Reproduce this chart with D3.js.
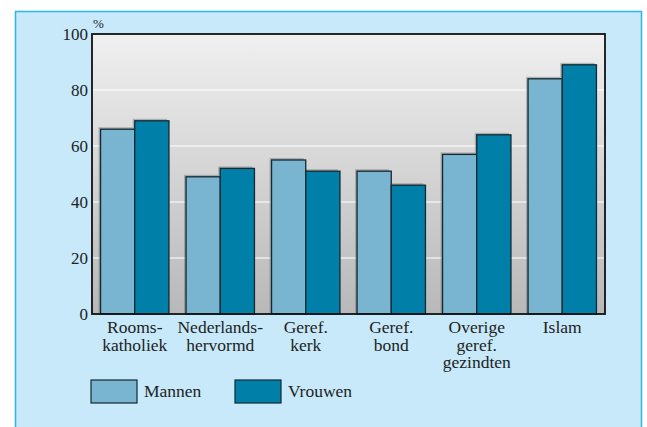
<!DOCTYPE html>
<html>
<head>
<meta charset="utf-8">
<script src="https://cdn.jsdelivr.net/npm/d3@7"></script>
<style>
  body { margin: 0; background: #fff; }
</style>
</head>
<body>
<div id="chart"></div>
<script>
//chart data
const categories = [["Rooms-", "katholiek"], ["Nederlands-", "hervormd"], ["Geref.", "kerk"],
  ["Geref.", "bond"], ["Overige", "geref.", "gezindten"], ["Islam"]];
const mannen = [66, 49, 55, 51, 57, 84];
const vrouwen = [69, 52, 51, 46, 64, 89];
const seriesNames = ["Mannen", "Vrouwen"];
const yTicks = [0, 20, 40, 60, 80, 100];

const width = 647, height = 427;
const colors = ["#79b4d0", "#0080a8"];
const font = "'Liberation Serif'";

const svg = d3.select("#chart").append("svg")
  .attr("width", width)
  .attr("height", height);

//gradient for plot background
const defs = svg.append("defs");
const grad = defs.append("linearGradient")
  .attr("id", "bg").attr("x1", 0).attr("y1", 0).attr("x2", 0).attr("y2", 1);
grad.append("stop").attr("offset", "0%").attr("stop-color", "#f0f0f0");
grad.append("stop").attr("offset", "100%").attr("stop-color", "#b8b8b8");

//outer panel
svg.append("rect")
  .attr("x", 15.5).attr("y", 11.5)
  .attr("width", 626).attr("height", 430)
  .attr("fill", "#c7e9f9")
  .attr("stroke", "#2bb5ea").attr("stroke-width", 1.5);

const plot = { left: 92, right: 605, top: 34, bottom: 314 };

const x = d3.scaleBand()
  .domain(d3.range(categories.length))
  .range([plot.left, plot.right])
  .paddingInner(0.2).paddingOuter(0.1);

const y = d3.scaleLinear()
  .domain([0, 100])
  .range([plot.bottom, plot.top]);

//plot background
svg.append("rect")
  .attr("x", plot.left).attr("y", plot.top)
  .attr("width", plot.right - plot.left).attr("height", plot.bottom - plot.top)
  .attr("fill", "url(#bg)");

//gridlines
svg.append("g").selectAll("line")
  .data(yTicks.filter(function(d){ return d > 0 && d < 100; }))
  .enter().append("line")
  .attr("x1", plot.left).attr("x2", plot.right)
  .attr("y1", function(d){ return y(d); })
  .attr("y2", function(d){ return y(d); })
  .attr("stroke", "#fff").attr("stroke-width", 1.2);

//bars
const bw = x.bandwidth() / 2;
const barData = [];
categories.forEach(function(c, i){
  barData.push({ i: i, s: 0, v: mannen[i] });
  barData.push({ i: i, s: 1, v: vrouwen[i] });
});

//shadows
svg.append("g").selectAll("rect")
  .data(barData)
  .enter().append("rect")
  .attr("x", function(d){ return x(d.i) + d.s * bw - 2; })
  .attr("y", function(d){ return y(d.v) - 2; })
  .attr("width", bw)
  .attr("height", function(d){ return plot.bottom - y(d.v) + 2; })
  .attr("fill", "#555").attr("opacity", 0.35);

svg.append("g").selectAll("rect")
  .data(barData)
  .enter().append("rect")
  .attr("x", function(d){ return x(d.i) + d.s * bw; })
  .attr("y", function(d){ return y(d.v); })
  .attr("width", bw)
  .attr("height", function(d){ return plot.bottom - y(d.v); })
  .attr("fill", function(d){ return colors[d.s]; })
  .attr("stroke", "#132a33").attr("stroke-width", 1.3);

//plot frame
svg.append("rect")
  .attr("x", plot.left).attr("y", plot.top)
  .attr("width", plot.right - plot.left).attr("height", plot.bottom - plot.top)
  .attr("fill", "none").attr("stroke", "#111").attr("stroke-width", 1.8);

//y axis labels
svg.append("g").selectAll("text")
  .data(yTicks)
  .enter().append("text")
  .attr("x", plot.left - 4)
  .attr("y", function(d){ return y(d) + 6; })
  .attr("text-anchor", "end")
  .attr("fill", "#222")
  .style("font-family", font)
  .style("font-size", "17px")
  .text(function(d){ return d; });

svg.append("text")
  .attr("x", plot.left + 1).attr("y", 28)
  .attr("fill", "#222")
  .style("font-family", font)
  .style("font-size", "13px")
  .text("%");

//category labels, one text per line
const catLines = [];
categories.forEach(function(c, i){
  c.forEach(function(line, j){ catLines.push({ i: i, j: j, t: line }); });
});

svg.append("g").selectAll("text")
  .data(catLines)
  .enter().append("text")
  .attr("x", function(d){ return x(d.i) + x.bandwidth() / 2; })
  .attr("y", function(d){ return 333 + d.j * 17.5; })
  .attr("text-anchor", "middle")
  .attr("fill", "#222")
  .style("font-family", font)
  .style("font-size", "17.5px")
  .text(function(d){ return d.t; });

//legend
const legend = svg.append("g").selectAll("g")
  .data(seriesNames)
  .enter().append("g")
  .attr("transform", function(d, i){ return "translate(" + (91 + i * 144) + ",380)"; });

legend.append("rect")
  .attr("width", 46).attr("height", 23)
  .attr("fill", function(d, i){ return colors[i]; })
  .attr("stroke", "#132a33").attr("stroke-width", 1.2);

legend.append("text")
  .attr("x", 53).attr("y", 17)
  .attr("fill", "#222")
  .style("font-family", font)
  .style("font-size", "17.5px")
  .text(function(d){ return d; });
</script>
</body>
</html>
